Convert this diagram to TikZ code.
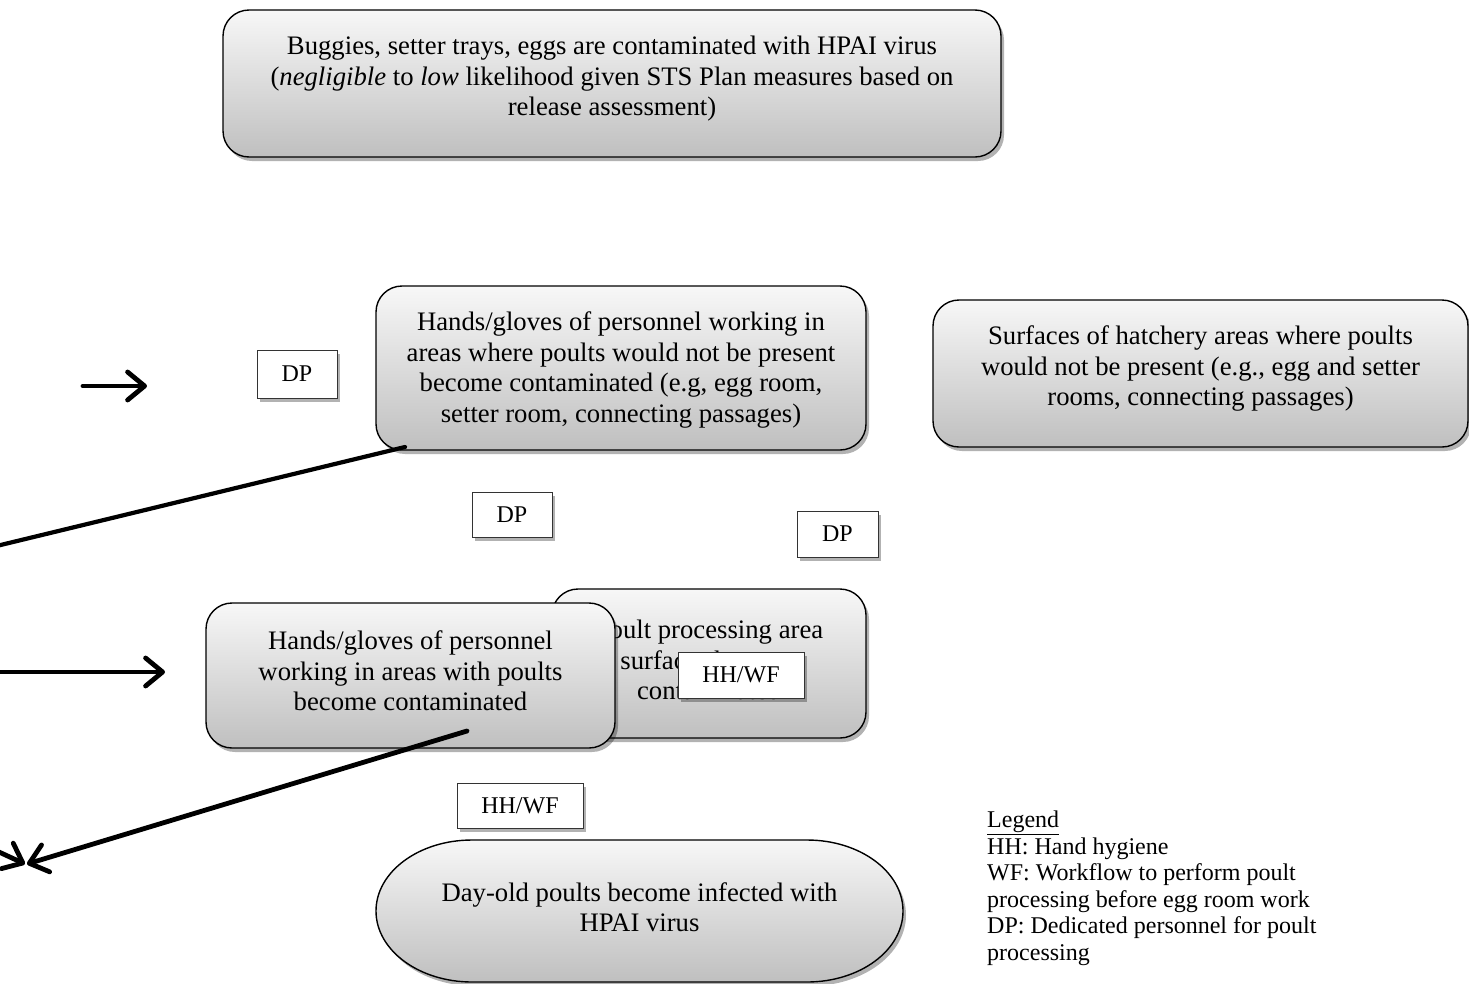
\documentclass[tikz,border=0pt]{standalone}
\usepackage{fontspec}
\setmainfont{Liberation Serif}
\usetikzlibrary{shadows,arrows.meta}
\begin{document}
\begin{tikzpicture}[x=1pt,y=-1pt,
  gfill/.style={draw=black, line width=1.4pt, top color=black!3, bottom color=black!25,
    drop shadow={shadow xshift=3pt,shadow yshift=-4pt,opacity=0.3,fill=black}},
  gbox/.style={gfill, rounded corners=26pt, inner sep=0pt},
  txt/.style={align=center, font=\fontsize{26.7}{30.5}\selectfont, inner sep=0pt},
  tagbox/.style={draw=black!80, line width=0.9pt, fill=white, font=\fontsize{24}{28}\selectfont, inner sep=0pt,
    drop shadow={shadow xshift=3pt,shadow yshift=-4pt,opacity=0.3,fill=black}},
  arr/.style={line width=4.8pt, line cap=round, -{Straight Barb[length=17pt,width=28pt,round]}},
  ln/.style={line width=4.2pt, line cap=round}
]
\useasboundingbox (0,0) rectangle (1469,983);
\clip (0,0) rectangle (1469,983);

% boxes
\node[gbox, minimum width=778pt, minimum height=147pt] (b1) at (612,83.5) {};
\node[txt] (b1t) at (612,79) {Buggies, setter trays, eggs are contaminated with HPAI virus\\(\textit{negligible} to \textit{low} likelihood given STS Plan measures based on\\release assessment)};

\node[gbox, minimum width=490pt, minimum height=164pt] (b2) at (621,368) {};
\node[txt] (b2t) at (621,370) {Hands/gloves of personnel working in\\areas where poults would not be present\\become contaminated (e.g, egg room,\\setter room, connecting passages)};

\node[gbox, minimum width=535pt, minimum height=147pt] (b3) at (1200.5,373.5) {};
\node[txt] (b3t) at (1200.5,368.5) {Surfaces of hatchery areas where poults\\would not be present (e.g., egg and setter\\rooms, connecting passages)};

\node[gbox, minimum width=314pt, minimum height=149pt] (b4) at (709,663.5) {};
\node[txt] (b4t) at (709,660) {Poult processing area\\surfaces become\\contaminated};

\node[gbox, minimum width=409pt, minimum height=145pt] (b5) at (410.5,675.5) {};
\node[txt] (b5t) at (410.5,671) {Hands/gloves of personnel\\working in areas with poults\\become contaminated};

\node[tagbox, minimum width=126pt, minimum height=46pt] (hw1) at (741,675) {HH/WF};

% stadium
\path[gfill] (472,840) -- (807,840) arc[start angle=-90, end angle=90, x radius=96, y radius=71]
  -- (472,982) arc[start angle=90, end angle=270, x radius=96, y radius=71] -- cycle;
\node[txt] (b6) at (639.5,907) {Day-old poults become infected with\\HPAI virus};

% tags
\node[tagbox, minimum width=80pt, minimum height=48pt] (dp1) at (297,374) {DP};
\node[tagbox, minimum width=80pt, minimum height=45pt] (dp2) at (512,514.5) {DP};
\node[tagbox, minimum width=81pt, minimum height=46pt] (dp3) at (837.5,534) {DP};
\node[tagbox, minimum width=126pt, minimum height=45pt] (hw2) at (520,805.5) {HH/WF};

% legend
\node[anchor=north west, align=left, font=\fontsize{24}{26.5}\selectfont, inner sep=0pt] (leg) at (987,811)
  {\underline{Legend}\\HH: Hand hygiene\\WF: Workflow to perform poult\\processing before egg room work\\DP: Dedicated personnel for poult\\processing};

% connectors
\coordinate (a1s) at (83,386); \coordinate (a1e) at (147,386);
\coordinate (a2s) at (405,447); \coordinate (a2e) at (-20,550);
\coordinate (a3s) at (-20,672); \coordinate (a3e) at (165,672);
\coordinate (a4s) at (467,731); \coordinate (a4e) at (27,864);
\coordinate (a5s) at (-40,834); \coordinate (a5e) at (25,864);
\draw[arr] (a1s) -- (a1e);
\draw[ln] (a2s) -- (a2e);
\draw[arr] (a3s) -- (a3e);
\draw[arr] (a4s) -- (a4e);
\draw[arr] (a5s) -- (a5e);
\end{tikzpicture}
\end{document}
